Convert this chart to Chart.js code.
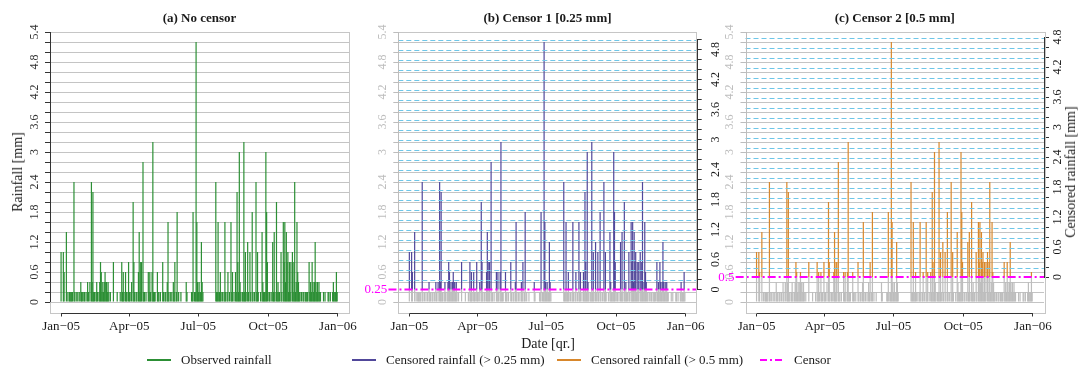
<!DOCTYPE html>
<html>
<head>
<meta charset="utf-8">
<title>Rainfall censoring</title>
<script src="https://cdn.jsdelivr.net/npm/chart.js@4.4.1/dist/chart.umd.min.js"></script>
<style>
  html, body { margin: 0; padding: 0; background: #ffffff; overflow: hidden; }
  #fig { position: relative; width: 1080px; height: 368px; font-family: 'Liberation Serif', 'DejaVu Serif', serif; color: #1a1a1a; }
  #fig canvas { position: absolute; top: 0; }
  .txt { position: absolute; white-space: nowrap; font-size: 14px; transform: translate(-50%, -50%); }
  .rot { transform: translate(-50%, -50%) rotate(-90deg); }
  .key { position: absolute; top: 352px; height: 16px; line-height: 16px; font-size: 13px; white-space: nowrap; }
  .key i { position: absolute; left: 0; top: 7px; width: 24px; height: 2px; }
  .key span { position: absolute; left: 34px; top: 0; }
</style>
</head>
<body>
<div id="fig">
  <canvas id="pa" width="362" height="340" style="left:0px"></canvas>
  <canvas id="pb" width="374" height="340" style="left:356px"></canvas>
  <canvas id="pc" width="380" height="340" style="left:700px"></canvas>
  <div class="txt rot" style="left:18px; top:172px">Rainfall [mm]</div>
  <div class="txt rot" style="left:1071px; top:172px">Censored rainfall [mm]</div>
  <div class="txt" style="left:548px; top:344px">Date [qr.]</div>
  <div id="legend"></div>
</div>
<script>
// daily rainfall 2005 [mm], one array per month
const rainJan = [1.0, 0, 0, 1.0, 0.6, 0, 0, 1.4, 0, 0.2, 0, 0.2, 0.2, 0.2, 0.2, 0.2, 0, 2.4, 0.2, 0, 0.2, 0, 0.2, 0, 0.2, 0, 0.4, 0.2, 0.2, 0, 0.2];
const rainFeb = [0.2, 0, 0.2, 0, 0.4, 0.2, 0, 0.4, 0, 2.4, 0.4, 2.2, 0.2, 0.2, 0, 0.2, 0.4, 0.2, 0, 0.2, 0.4, 0.8, 0.6, 0.2, 0.4, 0.2, 0.4, 0.6];
const rainMar = [0.4, 0.4, 0.2, 0.4, 0.2, 0, 0.2, 0, 0, 0, 0.8, 0, 0, 0, 0, 0.2, 0, 0, 0, 0.2, 0, 0.8, 0.2, 0.6, 0.2, 0, 0.6, 0.2, 0.2, 0, 0.8];
const rainApr = [0.2, 0.2, 0, 0.4, 0, 2.0, 0.8, 0.2, 0, 0.2, 0.2, 0, 0.6, 1.4, 0.2, 0.8, 0.8, 0, 2.8, 0.2, 0.2, 0, 0.2, 0, 0, 0.6, 0.2, 0.6, 0.2, 0];
const rainMay = [0.6, 3.2, 0.2, 0.2, 0.2, 0, 0, 0.6, 0.2, 0.2, 0, 0.2, 0, 0, 0.8, 0.2, 0, 0.2, 0.2, 0, 0.4, 1.6, 0.2, 0, 0.2, 0, 0.2, 0, 0.4, 0.2, 0.8];
const rainJun = [0, 0.2, 1.8, 0, 0.2, 0, 0, 0.2, 0, 0, 0, 0, 0, 0, 0.4, 0.2, 0, 0, 0, 0, 0, 0.2, 0.2, 1.8, 0, 0.2, 0.2, 5.2, 1.6, 0.4];
const rainJul = [0.2, 0.4, 0.2, 0.2, 1.2, 0.4, 0.2, 0, 0, 0, 0, 0, 0, 0, 0, 0, 0, 0, 0, 0, 0, 0, 0, 2.4, 0.2, 0.2, 1.6, 0.2, 0.2, 0.6, 0.2];
const rainAug = [0, 0.2, 0, 0.2, 1.6, 0.2, 0, 0.2, 0.6, 0, 0.2, 0, 1.6, 0.2, 0.6, 0, 0.2, 0, 0.6, 0.2, 2.2, 0.8, 0.2, 3.0, 0.4, 0.2, 0, 0.2, 0.2, 3.2, 0.2];
const rainSep = [1.0, 0.2, 0, 1.2, 0.2, 0, 1.0, 0.2, 0, 1.8, 0.2, 0, 0.2, 0, 2.4, 0.2, 1.0, 0.2, 0, 0, 0.2, 0, 1.4, 0.4, 0.2, 0.2, 0.2, 3.0, 1.8, 0.8];
const rainOct = [0, 0.2, 0.2, 0, 0.2, 0, 1.2, 0.2, 1.4, 0.2, 0, 2.0, 0.2, 0.4, 0.2, 0.2, 0, 1.0, 0.2, 0, 1.6, 0.8, 1.6, 0.4, 1.4, 0.8, 1.0, 0.2, 0.8, 0.2, 0.8];
const rainNov = [0, 1.0, 0.2, 0.8, 2.4, 0.2, 0.4, 1.6, 0.6, 0.4, 0.2, 0.2, 0, 0.2, 0, 0.2, 0.2, 0, 0.2, 0.2, 0.2, 0.2, 0, 0.8, 0.2, 0.4, 0.2, 0.8, 0.4, 0.2];
const rainDec = [0.4, 1.2, 0.4, 0.2, 0.4, 0.2, 0.4, 0.2, 0.2, 0, 0, 0, 0.2, 0, 0.2, 0, 0, 0, 0.2, 0.2, 0, 0.2, 0, 0, 0.2, 0.4, 0.2, 0.2, 0.2, 0.6, 0.2];

// x axis: day of year where each quarter starts
const quarterDays = [0, 90, 181, 273, 365];
const quarterLabels = ['Jan\u221205', 'Apr\u221205', 'Jul\u221205', 'Oct\u221205', 'Jan\u221206'];

const censorLevels = [0.25, 0.5];
const panelTitles = ['(a) No censor', '(b) Censor 1 [0.25 mm]', '(c) Censor 2 [0.5 mm]'];
const seriesLabels = ['Observed rainfall', 'Censored rainfall (> 0.25 mm)', 'Censored rainfall (> 0.5 mm)', 'Censor'];

Chart.defaults.font.family = "'Liberation Serif', 'DejaVu Serif', serif";
Chart.defaults.color = '#1a1a1a';

const COL = {
  observed: '#2c8f35',
  censor1: '#51479a',
  censor2: '#d8872b',
  censor: '#ff00ff',
  below: '#bdbdbd',
  grid: '#c4c4c4',
  gridCensored: 'rgb(110,198,232)',
  box: '#c6c6c6',
  faint: '#bdbdbd',
  ink: '#1a1a1a'
};

// axis limits (R style 4% extension)
const X_MIN = -14.6, X_MAX = 379.6;
const Y_MIN = -0.208, Y_MAX = 5.408;
const Y_TOP_TICK = 5.4;

const daily = [].concat(rainJan, rainFeb, rainMar, rainApr, rainMay, rainJun,
                        rainJul, rainAug, rainSep, rainOct, rainNov, rainDec);
const wet = daily.map((v, i) => ({ x: i, y: v })).filter(d => d.y > 0);

// ticks every 0.2, labels every 0.6
function gridTicks(top) {
  const out = [];
  for (let k = 0; k <= Math.round(top * 5); k++) out.push({ value: k * 2 / 10 });
  return out;
}
function tickText(v) {
  const t = Math.round(v * 10);
  return t % 6 === 0 ? String(t / 10) : '';
}

// censored-scale grid, box, R-like axis lines and censor label
const framePlugin = {
  id: 'frame',
  afterDatasetsDraw(chart, args, o) {
    const { ctx, chartArea: a, scales } = chart;
    const line = (x1, y1, x2, y2, color) => {
      ctx.strokeStyle = color;
      ctx.beginPath();
      ctx.moveTo(x1, y1);
      ctx.lineTo(x2, y2);
      ctx.stroke();
    };
    ctx.save();
    ctx.lineWidth = 1;

    if (scales.y2) {
      ctx.setLineDash([5, 3]);
      scales.y2.ticks.forEach(t => {
        if (t.value <= 0) return;
        // keep the 1px dashes on even pixel rows
        const y = 2 * Math.round(scales.y2.getPixelForValue(t.value) / 2) + 0.5;
        line(a.left, y, a.right, y, COL.gridCensored);
      });
      ctx.setLineDash([]);
    }

    ctx.strokeStyle = COL.box;
    ctx.strokeRect(Math.round(a.left) + 0.5, Math.round(a.top) + 0.5,
                   Math.round(a.right - a.left), Math.round(a.bottom - a.top));

    const yb = Math.round(a.bottom) + 0.5;
    line(scales.x.getPixelForValue(quarterDays[0]), yb,
         scales.x.getPixelForValue(quarterDays[quarterDays.length - 1]), yb, '#333');

    const xl = Math.round(a.left) + 0.5;
    line(xl, scales.y.getPixelForValue(0), xl, scales.y.getPixelForValue(Y_TOP_TICK), o.leftColor);

    if (scales.y2) {
      const xr = Math.round(a.right) + 0.5;
      line(xr, scales.y2.getPixelForValue(0), xr, scales.y2.getPixelForValue(o.top2), '#333');
    }
    if (o.censor != null) {
      ctx.fillStyle = COL.censor;
      ctx.font = "13px 'Liberation Serif', serif";
      ctx.textAlign = 'right';
      ctx.textBaseline = 'middle';
      ctx.fillText(String(o.censor), a.left - 11, scales.y.getPixelForValue(o.censor));
    }
    ctx.restore();
  }
};

function buildPanel(canvasId, p) {
  const datasets = [];
  if (p.censor == null) {
    datasets.push({ type: 'bar', label: seriesLabels[0], data: wet, backgroundColor: COL.observed, order: 1 });
  } else {
    const c = p.censor;
    datasets.push({
      type: 'line', label: seriesLabels[3],
      data: [{ x: X_MIN - 13, y: c }, { x: X_MAX, y: c }],
      borderColor: COL.censor, borderWidth: 2, borderDash: [8, 3, 2, 3],
      pointRadius: 0, fill: false, clip: false, order: 0
    });
    datasets.push({
      type: 'bar', label: p.label,
      data: wet.filter(d => d.y > c).map(d => ({ x: d.x, y: [c, d.y] })),
      backgroundColor: p.color, order: 1
    });
    datasets.push({
      type: 'bar', label: 'below censor',
      data: wet.map(d => ({ x: d.x, y: [0, Math.min(d.y, c)] })),
      backgroundColor: COL.below, order: 2
    });
  }
  datasets.forEach(d => {
    if (d.type === 'bar') Object.assign(d, { barThickness: 1.2, borderWidth: 0, inflateAmount: 0, grouped: false });
  });

  const leftColor = p.censor == null ? '#333' : COL.faint;
  const top2 = p.censor == null ? null : Math.floor((Y_MAX - p.censor) * 5 + 1e-9) / 5;

  const scales = {
    x: {
      type: 'linear', min: X_MIN, max: X_MAX, offset: false,
      afterBuildTicks: s => { s.ticks = quarterDays.map(v => ({ value: v })); },
      afterFit: s => { s.height = 27.5; s.paddingLeft = 0; s.paddingRight = 0; },
      ticks: {
        autoSkip: false, maxRotation: 0, padding: 2, color: COL.ink, font: { size: 13 },
        callback: (v, i) => quarterLabels[i]
      },
      grid: { drawOnChartArea: false, drawTicks: true, tickLength: 4, tickColor: '#333', offset: false },
      border: { display: false }
    },
    y: {
      type: 'linear', position: 'left', min: Y_MIN, max: Y_MAX,
      afterBuildTicks: s => { s.ticks = gridTicks(Y_TOP_TICK); },
      afterFit: s => { s.width = p.leftW; s.paddingTop = 0; s.paddingBottom = 0; },
      ticks: {
        autoSkip: false, minRotation: 90, maxRotation: 90, crossAlign: 'center', padding: p.leftPad,
        color: leftColor, font: { size: 12 }, callback: v => tickText(v)
      },
      grid: { color: COL.grid, tickColor: leftColor, tickLength: 5 },
      border: { display: false }
    }
  };
  if (p.censor != null) {
    scales.y2 = {
      type: 'linear', position: 'right', min: Y_MIN - p.censor, max: Y_MAX - p.censor,
      afterBuildTicks: s => { s.ticks = gridTicks(top2); },
      afterFit: s => { s.width = p.rightW; s.paddingTop = 0; s.paddingBottom = 0; },
      ticks: {
        autoSkip: false, minRotation: 90, maxRotation: 90, crossAlign: 'center', padding: p.rightPad,
        color: COL.ink, font: { size: 12 }, callback: v => tickText(v)
      },
      grid: { drawOnChartArea: false, tickColor: '#333', tickLength: 5 },
      border: { display: false }
    };
  }

  return new Chart(document.getElementById(canvasId), {
    type: 'bar',
    data: { datasets },
    options: {
      responsive: false,
      animation: false,
      events: [],
      layout: { padding: { left: 0, right: p.padRight || 0, top: 0, bottom: 0 } },
      plugins: {
        legend: { display: false },
        tooltip: { enabled: false },
        title: {
          display: true, text: p.title, fullSize: false, color: COL.ink,
          font: { size: 13, weight: 'bold' }, padding: { top: 11, bottom: 5 }
        },
        frame: { leftColor, censor: p.censor, top2 }
      },
      scales
    },
    plugins: [framePlugin]
  });
}

buildPanel('pa', { title: panelTitles[0], censor: null, leftW: 50, leftPad: 3, padRight: 13 });
buildPanel('pb', { title: panelTitles[1], censor: censorLevels[0], label: seriesLabels[1], color: COL.censor1,
                   leftW: 42.3, leftPad: 3, rightW: 33.3, rightPad: 7 });
buildPanel('pc', { title: panelTitles[2], censor: censorLevels[1], label: seriesLabels[2], color: COL.censor2,
                   leftW: 45.5, leftPad: 3, rightW: 36, rightPad: 1 });

// shared legend under the panels
const legendX = [147, 352, 557, 760];
const legendSwatch = [
  COL.observed, COL.censor1, COL.censor2,
  'repeating-linear-gradient(90deg, ' + COL.censor + ' 0 7px, transparent 7px 10px, ' +
    COL.censor + ' 10px 12px, transparent 12px 15px)'
];
const legend = document.getElementById('legend');
seriesLabels.forEach((name, i) => {
  const key = document.createElement('div');
  key.className = 'key';
  key.style.left = legendX[i] + 'px';
  key.innerHTML = '<i style="background:' + legendSwatch[i] + '"></i><span></span>';
  key.querySelector('span').textContent = name;
  legend.appendChild(key);
});
</script>
</body>
</html>
